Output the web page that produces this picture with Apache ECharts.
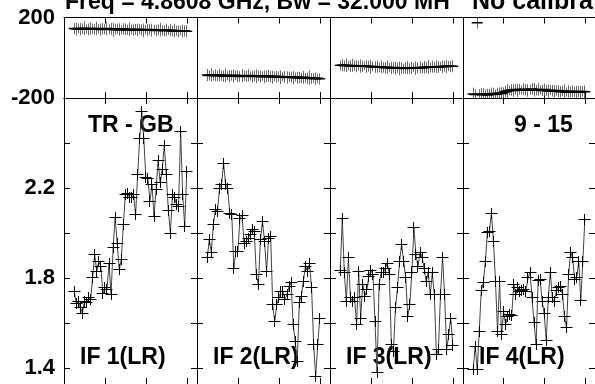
<!DOCTYPE html>
<html>
<head>
<meta charset="utf-8">
<script src="https://cdn.jsdelivr.net/npm/echarts@6/dist/echarts.min.js"></script>
<style>
  html, body { margin: 0; padding: 0; background: #fff; }
  #chart { width: 595px; height: 384px; }
</style>
</head>
<body>
<div id="chart"></div>
<script>
// Spectral channels plotted in every IF panel
const channels = [5, 6, 7, 8, 9, 10, 11, 12, 13, 14, 15, 16, 17, 18, 19, 20, 21, 22, 23, 24,
  25, 26, 27, 28, 29, 30, 31, 32, 33, 34, 35, 36, 37, 38, 39, 40, 41, 42, 43, 44,
  45, 46, 47, 48, 49, 50, 51, 52, 53, 54, 55, 56, 57, 58, 59, 60];

// Amplitude per channel
const ampIF1 = [1.742, 1.687, 1.697, 1.668, 1.645, 1.697, 1.690, 1.715, 1.705, 1.804,
  1.905, 1.830, 1.875, 1.853, 1.730, 1.760, 1.750, 1.865, 1.727, 1.934,
  2.070, 1.956, 1.838, 1.882, 2.038, 2.171, 2.178, 2.160, 2.156, 2.171,
  2.082, 2.260, 2.422, 2.540, 2.420, 2.245, 2.242, 2.141, 2.215, 2.075,
  2.193, 2.322, 2.223, 2.282, 2.390, 2.260, 2.100, 2.000, 2.171, 2.160,
  2.127, 2.120, 2.452, 2.171, 2.030, 2.274];
const ampIF2 = [1.890, 1.971, 1.916, 2.038, 2.104, 2.097, 2.200, 2.218, 2.311, 2.215,
  2.200, 2.089, 2.082, 1.845, 1.919, 1.919, 2.067, 2.079, 1.956, 1.964,
  1.978, 1.996, 2.015, 2.005, 1.816, 1.771, 1.971, 2.052, 1.964, 1.830,
  1.978, 1.986, 1.683, 1.606, 1.683, 1.712, 1.742, 1.742, 1.705, 1.727,
  1.764, 1.779, 1.594, 1.520, 1.431, 1.690, 1.720, 1.786, 1.853, 1.830,
  1.863, 1.757, 1.505, 1.364, 1.505, 1.623];
const ampIF3 = [1.833, 2.067, 1.823, 1.697, 1.890, 1.712, 1.697, 1.712, 1.594, 1.830,
  1.623, 1.774, 1.720, 1.749, 1.808, 1.833, 1.816, 1.606, 1.379, 1.771,
  1.827, 1.823, 1.842, 1.867, 1.816, 1.505, 1.475, 1.668, 1.757, 1.875,
  1.949, 1.875, 1.801, 1.631, 1.683, 1.823, 2.023, 1.905, 1.853, 1.912,
  1.893, 1.845, 1.786, 1.823, 1.727, 1.823, 1.727, 1.460, 1.483, 1.727,
  1.893, 1.727, 1.483, 1.549, 1.623, 1.502];
const ampIF4 = [1.394, 1.498, 1.394, 1.564, 1.745, 1.779, 1.872, 2.001, 2.008, 2.089,
  1.964, 1.786, 1.564, 1.786, 1.549, 1.650, 1.594, 1.631, 1.638, 1.635,
  1.774, 1.727, 1.760, 1.742, 1.745, 1.749, 1.742, 1.801, 1.827, 1.712,
  1.601, 1.505, 1.789, 1.793, 1.697, 1.641, 1.523, 1.712, 1.827, 1.712,
  1.697, 1.745, 1.757, 1.764, 1.727, 1.631, 1.579, 1.816, 1.916, 1.890,
  1.793, 1.801, 1.875, 1.700, 1.875, 2.060];

// Phase per channel (degrees)
const phaseIF1 = [145, 143, 146, 142, 144, 147, 143, 141, 145, 144, 142, 146, 143, 140, 144, 142, 145, 141, 143, 139,
  142, 144, 140, 138, 143, 141, 139, 142, 140, 137, 141, 139, 142, 138, 136, 140, 138, 141, 137, 139,
  135, 138, 140, 136, 134, 138, 135, 137, 133, 136, 134, 131, 135, 132, 134, 131];
const phaseIF2 = [-86, -88, -85, -89, -87, -90, -86, -88, -91, -87, -89, -92, -88, -90, -87, -91, -93, -89, -90, -92,
  -88, -91, -94, -90, -92, -89, -93, -91, -95, -92, -90, -94, -96, -92, -95, -93, -97, -94, -96, -98,
  -95, -97, -99, -96, -100, -98, -101, -97, -100, -102, -99, -103, -101, -104, -102, -105];
const phaseIF3 = [-38, -36, -40, -37, -39, -41, -38, -40, -42, -39, -41, -43, -40, -44, -42, -45, -43, -46, -44, -47,
  -45, -48, -50, -47, -49, -51, -48, -52, -50, -53, -51, -54, -52, -50, -53, -51, -49, -52, -50, -48,
  -51, -47, -49, -46, -48, -45, -47, -44, -46, -43, -45, -42, -44, -41, -43, -42];
const phaseIF4 = [-180, -183, 174, -181, -184, -179, -182, -185, -180, -183, -178, -181, -179, -176, -178, -172, -168, -165, -162, -160,
  -163, -158, -161, -157, -160, -156, -159, -162, -158, -155, -159, -161, -157, -160, -163, -158, -162, -165, -161, -164,
  -167, -163, -166, -169, -165, -168, -171, -167, -170, -166, -169, -172, -168, -170, -167, -169];

// Phase uncertainty per channel (degrees)
const phaseErrIF1 = [28, 32, 24, 30, 26, 34, 22, 29, 31, 25, 27, 33, 23, 30, 28, 26, 32, 24, 29, 35,
  27, 25, 31, 22, 28, 30, 26, 33, 24, 29, 27, 31, 25, 28, 34, 23, 30, 26, 32, 24,
  29, 27, 33, 25, 28, 31, 22, 30, 27, 34, 26, 29, 24, 32, 28, 30];
const phaseErrIF2 = [30, 26, 33, 24, 29, 27, 31, 25, 28, 34, 23, 30, 26, 32, 24, 29, 27, 33, 25, 28,
  31, 22, 30, 27, 34, 26, 29, 24, 32, 28, 30, 28, 32, 24, 30, 26, 34, 22, 29, 31,
  25, 27, 33, 23, 30, 28, 26, 32, 24, 29, 35, 27, 25, 31, 22, 28];
const phaseErrIF3 = [25, 31, 27, 34, 23, 29, 32, 26, 30, 24, 33, 28, 22, 31, 27, 35, 25, 29, 30, 24,
  32, 26, 28, 33, 23, 30, 27, 31, 25, 34, 28, 24, 29, 32, 26, 30, 23, 33, 27, 29,
  25, 31, 28, 34, 24, 30, 26, 32, 29, 23, 31, 27, 33, 25, 28, 30];
const phaseErrIF4 = [32, 27, 30, 25, 33, 28, 24, 31, 26, 34, 29, 23, 30, 27, 32, 25, 28, 35, 24, 29,
  31, 26, 33, 27, 22, 30, 28, 32, 25, 29, 34, 26, 31, 23, 28, 30, 27, 33, 24, 29,
  32, 25, 30, 28, 26, 34, 23, 31, 27, 29, 25, 33, 28, 30, 26, 31];

// Axis ticks and labels
const channelTicks = [20, 40, 60];
const phaseLabels = [-200, 200];
const ampTicks = [1.4, 1.6, 1.8, 2.0, 2.2, 2.4];
const ampLabels = [1.4, 1.8, 2.2];

const panelNames = ['IF 1(LR)', 'IF 2(LR)', 'IF 3(LR)', 'IF 4(LR)'];
const baselineName = 'TR - GB';
const scanName = '9 - 15';
const titleMain = 'Freq = 4.8608 GHz, Bw = 32.000 MH';
const titleNote = 'No calibra';

const amps = [ampIF1, ampIF2, ampIF3, ampIF4];
const phases = [phaseIF1, phaseIF2, phaseIF3, phaseIF4];
const phaseErrs = [phaseErrIF1, phaseErrIF2, phaseErrIF3, phaseErrIF4];

const FONT = '"Liberation Sans", Arial, Helvetica, sans-serif';
const PANEL_LEFT = 64, PANEL_W = 133;
const PHASE_TOP = 17.5, PHASE_H = 80.5;
const AMP_TOP = 98, AMP_H = 286;

const grid = [], xAxis = [], yAxis = [], series = [], graphic = [];

function xPair(gi) {
  const base = {
    type: 'value', gridIndex: gi, min: 0, max: 65,
    axisLine: { show: true, onZero: false, lineStyle: { color: '#000', width: 1 } },
    axisTick: { show: true, inside: true, length: 6, customValues: channelTicks, lineStyle: { color: '#000' } },
    axisLabel: { show: false },
    splitLine: { show: false }
  };
  xAxis.push(Object.assign({}, base, { position: 'bottom' }));
  xAxis.push(Object.assign({}, base, { position: 'top' }));
  return xAxis.length - 2;
}

function yPair(gi, cfg, showLabels) {
  const mk = (pos, labels) => ({
    type: 'value', gridIndex: gi, position: pos, min: cfg.min, max: cfg.max, interval: cfg.interval,
    axisLine: { show: true, onZero: false, lineStyle: { color: '#000', width: 1 } },
    axisTick: { show: cfg.ticks.length > 0, inside: true, length: 6, customValues: cfg.ticks, lineStyle: { color: '#000' } },
    axisLabel: {
      show: labels, customValues: cfg.labels, margin: 9,
      color: '#000', fontFamily: FONT, fontWeight: 'bold', fontSize: 22,
      formatter: cfg.fmt
    },
    splitLine: cfg.split
  });
  yAxis.push(mk('left', showLabels));
  yAxis.push(mk('right', false));
  return yAxis.length - 2;
}

// snap a 1px stroke onto the pixel grid
const crisp = x => Math.round(x - 0.5) + 0.5;

// gray uncertainty bar of one phase point
function phaseBar(params, api) {
  const c = api.value(0), v = api.value(1), e = api.value(2);
  const hi = api.coord([c, v + e]);
  const lo = api.coord([c, v - e]);
  const x = crisp(hi[0]);
  return { type: 'line', shape: { x1: x, y1: hi[1], x2: x, y2: lo[1] },
    style: { stroke: '#6a6a6a', lineWidth: 1 } };
}
// black horizontal stroke at the phase value
function phaseMark(params, api) {
  const p = api.coord([api.value(0), api.value(1)]);
  return { type: 'line', shape: { x1: p[0] - 5.5, y1: p[1], x2: p[0] + 5.5, y2: p[1] },
    style: { stroke: '#000', lineWidth: 1.4 } };
}
// "+" marker of one amplitude point
function plusMark(params, api) {
  const p = api.coord([api.value(0), api.value(1)]);
  const x = crisp(p[0]), y = crisp(p[1]);
  return { type: 'group', children: [
    { type: 'line', shape: { x1: x - 6, y1: y, x2: x + 6, y2: y }, style: { stroke: '#000', lineWidth: 1 } },
    { type: 'line', shape: { x1: x, y1: y - 5.5, x2: x, y2: y + 5.5 }, style: { stroke: '#000', lineWidth: 1 } }
  ] };
}

for (let i = 0; i < 4; i++) {
  const left = PANEL_LEFT + PANEL_W * i;

  // phase panel
  grid.push({ left: left, top: PHASE_TOP, width: PANEL_W, height: PHASE_H });
  const pg = grid.length - 1;
  const px = xPair(pg);
  const py = yPair(pg, {
    min: -200, max: 200, interval: 200, ticks: [], labels: phaseLabels,
    fmt: v => String(v),
    split: { show: true, lineStyle: { color: '#000', width: 1 } }
  }, i === 0);

  const pdata = channels.map((c, k) => [c, phases[i][k], phaseErrs[i][k]]);
  series.push({ type: 'custom', xAxisIndex: px, yAxisIndex: py, data: pdata, renderItem: phaseBar, clip: true, z: 2, silent: true });
  series.push({ type: 'custom', xAxisIndex: px, yAxisIndex: py, data: pdata, renderItem: phaseMark, clip: true, z: 3, silent: true });

  // amplitude panel
  grid.push({ left: left, top: AMP_TOP, width: PANEL_W, height: AMP_H });
  const ag = grid.length - 1;
  const ax = xPair(ag);
  const ay = yPair(ag, {
    min: 1.33, max: 2.6, interval: undefined, ticks: ampTicks, labels: ampLabels,
    fmt: v => v.toFixed(1),
    split: { show: false }
  }, i === 0);

  const adata = channels.map((c, k) => [c, amps[i][k]]);
  series.push({ type: 'line', xAxisIndex: ax, yAxisIndex: ay, data: adata, showSymbol: false, clip: true,
    lineStyle: { color: '#444', width: 1 }, z: 2, silent: true });
  series.push({ type: 'custom', xAxisIndex: ax, yAxisIndex: ay, data: adata, renderItem: plusMark, clip: true, z: 3, silent: true });

  graphic.push({ type: 'text', left: left + 16, top: 346, z: 0,
    style: { text: panelNames[i], font: 'bold 23px ' + FONT, fill: '#000' } });
}

graphic.push({ type: 'text', left: 88, top: 114, z: 0,
  style: { text: baselineName, font: 'bold 23px ' + FONT, fill: '#000' } });
graphic.push({ type: 'text', left: 514, top: 114, z: 0,
  style: { text: scanName, font: 'bold 23px ' + FONT, fill: '#000' } });
graphic.push({ type: 'text', x: 65, y: -9, z: 0,
  style: { text: titleMain, font: 'bold 23px ' + FONT, fill: '#000' } });
graphic.push({ type: 'text', x: 472, y: -10, z: 0,
  style: { text: titleNote, font: 'bold 25px ' + FONT, fill: '#000' } });

const chart = echarts.init(document.getElementById('chart'), null, { renderer: 'canvas' });
chart.setOption({
  animation: false,
  backgroundColor: '#fff',
  grid: grid,
  xAxis: xAxis,
  yAxis: yAxis,
  series: series,
  graphic: { elements: graphic }
});
</script>
</body>
</html>
